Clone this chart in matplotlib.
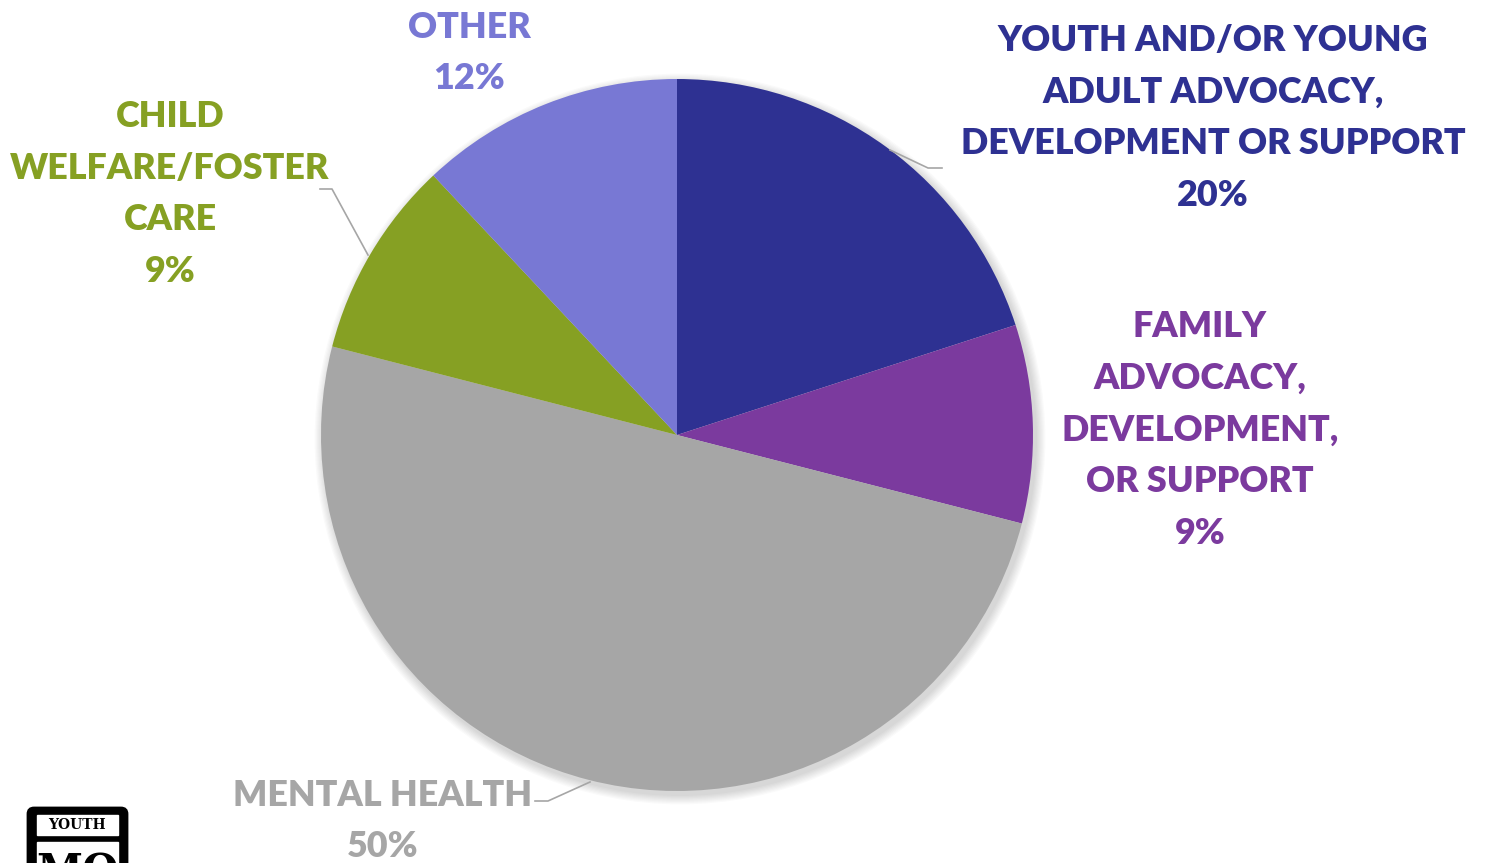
import matplotlib.pyplot as plt
from matplotlib.patches import FancyBboxPatch, Circle

# --- DATA ---
categories = ['YOUTH AND/OR YOUNG\nADULT ADVOCACY,\nDEVELOPMENT OR SUPPORT',
              'FAMILY\nADVOCACY,\nDEVELOPMENT,\nOR SUPPORT',
              'MENTAL HEALTH',
              'CHILD\nWELFARE/FOSTER\nCARE',
              'OTHER']
shares = [20, 9, 50, 9, 12]
colors = ['#2E3192', '#7B3A9E', '#A6A6A6', '#86A023', '#7878D4']

W, H = 1485, 863
fig = plt.figure(figsize=(W / 100, H / 100), dpi=100)
ax = fig.add_axes([0, 0, 1, 1])
ax.set_xlim(0, W)
ax.set_ylim(0, H)
ax.set_aspect('equal')
ax.axis('off')

cx, cy, r = 677, H - 435, 356

# soft shadow behind the pie
for i in range(8):
    ax.add_patch(Circle((cx + 3, cy - 4), r + 1 + i * 1.2, color='black',
                        alpha=0.018, lw=0, zorder=0))

ax.pie(shares, colors=colors, startangle=90, counterclock=False,
       center=(cx, cy), radius=r, frame=True,
       wedgeprops=dict(linewidth=0))
ax.set_xlim(0, W)
ax.set_ylim(0, H)
ax.axis('off')

font = 'Lato'
fs = 25.8
lsp = 1.70

# label positions (pixel coords, y from top) and leader lines
labels = [
    (1213, 118, 0),
    (1200, 430, 1),
    (383, 821, 2),
    (170, 194, 3),
    (469, 53, 4),
]
for x, y, i in labels:
    ax.text(x, H - y, f'{categories[i]}\n{shares[i]}%', ha='center', va='center',
            fontsize=fs, fontweight='heavy', color=colors[i], family=font,
            linespacing=lsp)

lc = '#A6A6A6'
leaders = [
    [(890, 150), (928, 168), (942, 168)],
    [(320, 189), (332, 189), (368, 255)],
    [(535, 801), (548, 801), (590, 782)],
]
for pts in leaders:
    xs = [p[0] for p in pts]
    ys = [H - p[1] for p in pts]
    ax.plot(xs, ys, color=lc, lw=1.2)

# logo in bottom-left corner (cut by the image edge, as in the original)
ax.add_patch(FancyBboxPatch((30, H - 880), 95, 70, boxstyle='round,pad=2,rounding_size=6',
                            fc='black', ec='black', lw=2))
ax.add_patch(FancyBboxPatch((37, H - 835), 81, 20, boxstyle='square,pad=0',
                            fc='white', ec='white'))
ax.text(77, H - 825, 'YOUTH', ha='center', va='center', fontsize=10,
        fontweight='bold', family='DejaVu Serif', color='black')
ax.add_patch(FancyBboxPatch((37, H - 880), 81, 38, boxstyle='square,pad=0',
                            fc='white', ec='white'))
ax.text(77, H - 872, 'MO', ha='center', va='center', fontsize=30,
        fontweight='bold', family='DejaVu Serif', color='black')

fig.savefig('out.png', dpi=100)
